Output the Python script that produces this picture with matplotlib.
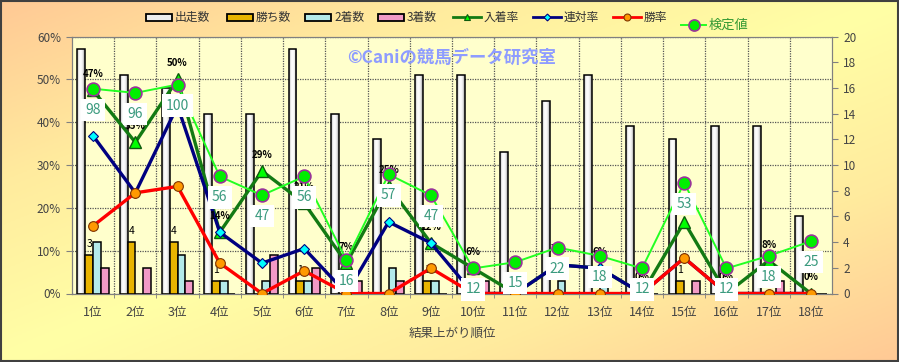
import numpy as np
import matplotlib
matplotlib.use("Agg")
import matplotlib.pyplot as plt
from matplotlib.colors import LinearSegmentedColormap
from matplotlib.patches import Rectangle
from matplotlib.lines import Line2D

plt.rcParams['font.family'] = ['Noto Sans CJK JP', 'DejaVu Sans']

# ---- data ----
cats = ["1位", "2位", "3位", "4位", "5位", "6位", "7位", "8位", "9位",
        "10位", "11位", "12位", "13位", "14位", "15位", "16位", "17位", "18位"]
starts = [19, 17, 16, 14, 14, 19, 14, 12, 17, 17, 11, 15, 17, 13, 12, 13, 13, 6]
wins = [3, 4, 4, 1, 0, 1, 0, 0, 1, 0, 0, 0, 0, 0, 1, 0, 0, 0]
second = [4, 0, 3, 1, 1, 1, 0, 2, 1, 0, 0, 1, 1, 0, 0, 0, 0, 0]
third = [2, 2, 1, 0, 3, 2, 1, 1, 0, 1, 0, 0, 0, 0, 1, 0, 1, 0]
place_rate = [47.4, 35.3, 50.0, 14.3, 28.6, 21.1, 7.1, 25.0, 11.8, 5.9,
              0.0, 6.7, 5.9, 0.0, 16.7, 0.0, 7.7, 0.0]
quinella_rate = [36.8, 23.5, 43.8, 14.3, 7.1, 10.5, 0.0, 16.7, 11.8, 0.0,
                 0.0, 6.7, 5.9, 0.0, 8.3, 0.0, 0.0, 0.0]
win_rate = [15.8, 23.5, 25.0, 7.1, 0.0, 5.3, 0.0, 0.0, 5.9, 0.0,
            0.0, 0.0, 0.0, 0.0, 8.3, 0.0, 0.0, 0.0]
kentei = [98, 96, 100, 56, 47, 56, 16, 57, 47, 12, 15, 22, 18, 12, 53, 12, 18, 25]

W, H = 899, 362
fig = plt.figure(figsize=(W / 100, H / 100), dpi=100)

# background gradient (orange corners top-left / bottom-right, yellow between)
bg = fig.add_axes([0, 0, 1, 1], zorder=0)
bg.set_xlim(0, W)
bg.set_ylim(H, 0)
bg.axis('off')
yy, xx = np.mgrid[0:1:200j, 0:1:400j]
t = np.abs(1 - (xx + yy))
bgcmap = LinearSegmentedColormap.from_list('bg', ['#FFFFA6', '#FFEB9E', '#FFC995'])
bg.imshow(t, cmap=bgcmap, extent=(0, W, H, 0), aspect='auto', vmin=0, vmax=1)
bg.add_patch(Rectangle((0.5, 0.5), W - 1.5, H - 1.5, fill=False, ec='#404040', lw=1.5))

x = np.arange(1, len(cats) + 1)

# host axis: percent scale (left) + grid
ax = fig.add_axes([72 / W, 1 - 293.5 / H, 760 / W, 257 / H], zorder=1)
ax.set_facecolor('#FFFFCC')
ax.set_xlim(0.5, 18.5)
ax.set_ylim(0, 60)
ax.set_yticks(range(0, 61, 10))
ax.set_yticklabels([f"{v}%" for v in range(0, 61, 10)])
ax.set_xticks(x)
ax.set_xticklabels(cats)
ax.set_xticks(np.arange(1.5, 18, 1), minor=True)
ax.grid(True, which='major', axis='y', ls=(0, (1, 1)), color='#555555', lw=0.9)
ax.grid(True, which='minor', axis='x', ls=(0, (1, 1)), color='#555555', lw=0.9)
ax.tick_params(axis='y', length=4, color='#808080', labelsize=8.5, labelcolor='#444444', pad=4)
ax.tick_params(axis='x', which='major', length=0, labelsize=9, labelcolor='#444444', pad=9)
ax.tick_params(axis='x', which='minor', length=3, color='#808080')
for s in ax.spines.values():
    s.set_color('#808080')
ax.set_xlabel("結果上がり順位", fontsize=9, color='#444444', labelpad=6)

# count bars (right axis)
axb = ax.twinx()
axb.patch.set_visible(False)
axb.set_ylim(0, 20)
axb.set_yticks(range(0, 21, 2))
axb.tick_params(axis='y', length=4, color='#808080', labelsize=8.5, labelcolor='#444444', pad=4)
for s in axb.spines.values():
    s.set_color('#808080')

bw = 0.185
b_starts = axb.bar(x - 1.5 * bw, starts, bw, facecolor='none', edgecolor='black', lw=1.1, zorder=3)
gcmap = LinearSegmentedColormap.from_list('g', ['#BDBDBD', '#FFFFFF', '#F4F4F4', '#9A9A9A'])
grad = np.linspace(0, 1, 32).reshape(1, -1)
for b in b_starts:
    bx, bwid, bh = b.get_x(), b.get_width(), b.get_height()
    im = axb.imshow(grad, cmap=gcmap, extent=(bx, bx + bwid, 0, bh), aspect='auto', zorder=2)
    im.set_clip_path(b)
axb.bar(x - 0.5 * bw, wins, bw, color='#E8B400', edgecolor='black', lw=1.1, zorder=3)
axb.bar(x + 0.5 * bw, second, bw, color='#B4EAEA', edgecolor='black', lw=1.1, zorder=3)
axb.bar(x + 1.5 * bw, third, bw, color='#F29AC6', edgecolor='black', lw=1.1, zorder=3)
for xi, v in zip(x, wins):
    if v > 0:
        axb.annotate(str(v), (xi - 0.5 * bw, v), xytext=(0, 11), textcoords='offset pixels',
                     ha='center', va='center', fontsize=7.5, color='black', zorder=4)
axb.set_xlim(0.5, 18.5)
axb.set_ylim(0, 20)

# rate lines (percent scale)
axl = ax.twinx()
axl.patch.set_visible(False)
axl.set_ylim(0, 60)
axl.set_yticks([])
for s in axl.spines.values():
    s.set_visible(False)
axl.plot(x, place_rate, color='#137A13', lw=2.4, marker='^', ms=8,
         mfc='#00FF00', mec='#0E5A0E', mew=1, zorder=3)
axl.plot(x, quinella_rate, color='#000080', lw=2.4, marker='D', ms=5.5,
         mfc='#00FFFF', mec='#000080', mew=0.8, zorder=4)
axl.plot(x, win_rate, color='#FF0000', lw=2.4, marker='o', ms=7,
         mfc='#FF9900', mec='#803300', mew=0.8, zorder=5)
for xi, v in zip(x, place_rate):
    axl.annotate(f"{round(v)}%", (xi, v), xytext=(0, 16), textcoords='offset pixels',
                 ha='center', va='center', fontsize=7, fontweight='bold', color='black', zorder=6)

# 検定値 (own hidden scale)
axk = ax.twinx()
axk.patch.set_visible(False)
axk.set_ylim(0, 123)
axk.set_yticks([])
for s in axk.spines.values():
    s.set_visible(False)
axk.plot(x, kentei, color='#22FF22', lw=1.4, marker='o', ms=9.2,
         mfc='#00EE00', mec='#993399', mew=1.2, zorder=3)
for xi, v in zip(x, kentei):
    axk.annotate(str(v), (xi, v), xytext=(0, -21), textcoords='offset pixels',
                 ha='center', va='center', fontsize=10, color='#3A9A7E', zorder=4,
                 bbox=dict(boxstyle='square,pad=0.3', fc='white', ec='none'))

# watermark
axk.text(0.5, 0.915, "©Caniの競馬データ研究室", transform=axk.transAxes,
         ha='center', va='center', fontsize=12.5, fontweight='bold', color='#8E9CFF', zorder=1)

# legend drawn in pixel coords on the background layer
ly = 17
leg_txt = dict(fontsize=8.5, color='#333333', va='center', ha='left')
patch_items = [("出走数", 146, '#EDEDED'), ("勝ち数", 227, '#E8B400'),
               ("2着数", 305, '#B4EAEA'), ("3着数", 378, '#F29AC6')]
for name, lx, fc in patch_items:
    bg.add_patch(Rectangle((lx, ly - 3.5), 26, 7, fc=fc, ec='black', lw=1.3))
    bg.text(lx + 29, ly, name, **leg_txt)
line_items = [("入着率", 453, '#137A13', '^', '#00FF00', '#0E5A0E', 5),
              ("連対率", 533, '#000080', 'D', '#00FFFF', '#000080', 3.5),
              ("勝率", 613, '#FF0000', 'o', '#FF9900', '#803300', 5)]
for name, lx, lc, mk, mf, me, ms in line_items:
    bg.add_line(Line2D([lx, lx + 28], [ly, ly], color=lc, lw=2))
    bg.add_line(Line2D([lx + 14], [ly], marker=mk, ms=ms, mfc=mf, mec=me, mew=0.8))
    bg.text(lx + 31, ly, name, **leg_txt)
bg.add_line(Line2D([681, 706], [25, 25], color='#22FF22', lw=1.4))
bg.add_line(Line2D([693.5], [25], marker='o', ms=8, mfc='#00EE00', mec='#993399', mew=1.2))
bg.text(709, 25, "検定値", fontsize=9.5, color='#339933', va='center', ha='left')

fig.savefig("out.png", dpi=100)
